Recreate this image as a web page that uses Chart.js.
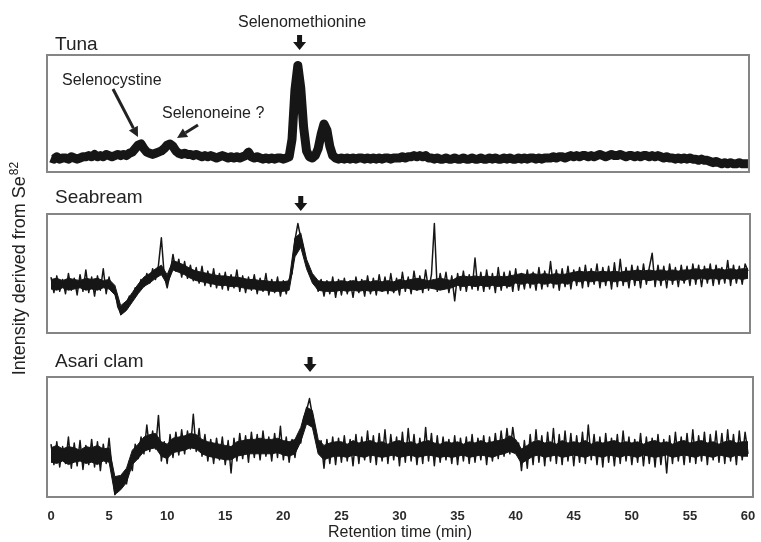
<!DOCTYPE html>
<html>
<head>
<meta charset="utf-8">
<script src="https://cdn.jsdelivr.net/npm/chart.js@4.4.1/dist/chart.umd.min.js"></script>
<style>
  html, body { margin: 0; padding: 0; background: #fff; }
  #wrap { position: relative; width: 761px; height: 542px; }
  #wrap canvas { position: absolute; left: 0; top: 0; }
</style>
</head>
<body>
<div id="wrap">
  <canvas id="tuna" width="761" height="542"></canvas>
  <canvas id="seabream" width="761" height="542"></canvas>
  <canvas id="asari" width="761" height="542"></canvas>
</div>
<script>
const sampleStep = 0.25;
// upper / lower edge of the dense noise band, every 0.5 min
const bandStep = 0.5;
const timeTicks = [0, 5, 10, 15, 20, 25, 30, 35, 40, 45, 50, 55, 60];

const tunaSignal = [
  12,11,13,11,12,12,11,13,12,11,12,13,
  13,14,13,15,13,14,13,15,14,13,14,15,
  14,15,14,16,17,20,23,24,20,17,16,15,
  16,17,18,20,23,24,22,18,16,15,16,15,
  15,14,15,14,13,14,13,14,13,12,13,14,
  13,12,13,12,13,12,13,14,17,13,12,13,
  12,11,12,11,12,11,12,12,11,12,13,28,
  70,91,72,38,18,13,12,14,20,32,41,36,
  22,14,12,11,12,11,12,11,12,11,12,12,
  11,12,11,12,11,12,11,12,12,11,12,12,
  12,13,12,13,13,14,13,14,13,14,12,12,
  11,12,11,11,12,11,11,12,11,11,12,11,
  11,12,11,11,12,11,11,12,11,12,11,11,
  12,11,12,11,11,12,11,12,11,12,12,11,
  12,11,12,12,12,13,12,13,13,12,13,14,
  13,14,13,14,14,13,14,13,14,15,14,13,
  14,15,14,14,15,14,13,14,14,13,14,13,
  14,14,13,14,13,14,13,12,13,12,12,11,
  12,11,12,11,12,11,11,10,11,10,10,9,
  8,9,8,7,8,7,8,7,7,8,7,7,
  7
];

const seabreamSignal = [
  47,34,48,35,45,33,50,36,46,32,49,35,
  53,34,47,31,48,36,54,33,47,35,36,22,
  17,21,24,31,29,38,35,45,39,50,42,54,
  45,57,80,48,38,50,66,52,62,47,60,46,
  57,44,55,42,56,40,52,39,54,38,50,37,
  51,36,49,38,53,35,48,34,47,36,49,33,
  46,35,50,32,45,34,47,31,44,33,45,50,
  78,92,80,70,58,52,44,43,35,45,31,44,
  33,47,30,45,32,46,33,44,30,47,34,45,
  31,48,33,46,32,49,35,47,33,50,34,46,
  32,51,35,47,33,52,36,48,34,53,36,49,
  92,35,50,37,51,34,48,27,50,36,52,35,
  49,37,63,36,51,35,53,37,50,34,55,36,
  51,38,52,35,54,36,50,37,53,38,51,36,
  55,37,52,39,60,38,53,36,54,39,56,37,
  53,40,55,38,57,39,54,41,58,38,55,40,
  56,37,59,39,62,40,55,38,57,40,56,38,
  58,41,55,67,39,57,40,56,38,58,41,55,
  39,57,42,56,40,58,41,57,39,56,42,58,
  40,57,41,55,42,61,40,57,42,56,41,58,
  52
];

const seabreamUpper = [
  45,46,44,46,45,44,46,45,46,44,
  45,40,23,27,34,41,47,50,54,57,
  49,61,59,57,54,52,51,50,49,48,
  48,47,47,46,45,45,44,44,43,43,
  43,44,80,84,62,50,44,43,43,43,
  44,43,44,43,44,43,44,43,44,43,
  45,44,45,46,45,44,45,46,45,44,
  47,48,47,48,47,48,47,48,47,48,
  49,50,49,50,49,50,49,50,49,50,
  51,52,51,52,51,52,51,52,51,52,
  52,53,52,53,52,53,52,53,52,53,
  53,54,53,54,53,54,53,54,53,54,
  54
];

const seabreamLower = [
  37,36,38,36,37,38,36,37,36,38,
  37,32,15,19,26,33,39,42,46,49,
  41,53,51,49,46,44,43,42,41,40,
  40,39,39,38,37,37,36,36,35,35,
  35,36,64,72,54,42,36,35,35,35,
  36,35,36,35,36,35,36,35,36,35,
  37,38,37,36,37,38,37,36,37,38,
  40,39,40,39,40,39,40,39,40,39,
  42,41,42,41,42,41,42,41,42,41,
  44,43,44,43,44,43,44,43,44,43,
  45,44,45,44,45,44,45,44,45,44,
  46,45,46,45,46,45,46,45,46,45,
  46
];

const asariSignal = [
  44,27,46,25,42,28,50,24,45,26,47,23,
  43,27,48,25,46,22,44,28,49,24,2,14,
  8,18,11,30,22,44,32,50,36,60,38,55,
  40,68,30,46,28,52,33,54,35,56,36,55,
  40,69,38,57,34,52,30,48,28,49,31,50,
  27,47,20,49,30,53,32,51,29,54,33,52,
  31,55,34,50,30,53,33,59,31,50,29,48,
  33,52,45,66,72,82,68,55,38,47,24,48,
  28,50,27,49,29,51,30,48,26,52,28,50,
  31,55,29,51,27,53,30,56,28,52,31,50,
  26,54,29,57,30,52,27,49,28,58,30,53,
  26,51,29,50,31,48,28,51,27,49,30,50,
  28,52,29,49,31,51,27,50,30,53,32,55,
  34,57,36,58,40,45,22,47,24,52,27,56,
  29,51,26,54,30,57,28,52,27,55,30,53,
  26,51,29,54,28,60,31,52,27,50,25,53,
  29,49,26,52,28,55,30,50,27,48,29,53,
  26,50,28,49,25,52,27,48,20,51,28,54,
  30,50,27,53,29,56,28,51,30,54,27,52,
  31,55,29,53,28,56,30,52,27,55,31,54,
  36
];

const asariUpper = [
  41,43,40,42,41,39,42,41,43,40,
  41,17,18,24,39,44,50,52,53,46,
  44,49,50,51,53,52,48,46,45,44,
  43,42,46,47,48,48,49,48,48,49,
  47,46,48,58,75,72,48,43,45,46,
  46,44,47,45,46,47,45,46,44,46,
  47,45,46,44,46,47,45,44,46,45,
  46,44,46,45,47,45,46,47,48,51,
  48,40,43,46,47,45,46,44,47,45,
  46,45,47,44,46,45,46,47,45,46,
  45,46,44,46,47,45,46,44,46,47,
  45,46,47,45,46,44,46,47,45,46,
  46
];

const asariLower = [
  29,28,30,27,29,30,28,29,27,30,
  29,2,6,12,27,32,38,40,41,34,
  32,37,38,39,41,40,36,34,33,32,
  31,31,34,35,36,36,36,36,36,37,
  35,34,36,46,61,58,36,31,33,34,
  34,33,35,34,33,35,34,33,34,35,
  33,34,35,33,34,35,34,33,34,33,
  34,35,33,34,35,34,33,35,36,38,
  36,28,31,34,35,33,34,35,33,34,
  35,34,33,35,34,33,35,34,33,35,
  34,33,35,34,33,34,35,33,34,35,
  34,33,35,34,33,35,34,33,35,34,
  34
];

const inkColor = '#161616';
const frameColor = '#858585';
const fontFamily = 'Arial, "Liberation Sans", Helvetica, sans-serif';

function blockArrow(ctx, cx, top) {
  ctx.beginPath();
  ctx.moveTo(cx - 2.5, top);
  ctx.lineTo(cx + 2.5, top);
  ctx.lineTo(cx + 2.5, top + 7);
  ctx.lineTo(cx + 6.5, top + 7);
  ctx.lineTo(cx, top + 15);
  ctx.lineTo(cx - 6.5, top + 7);
  ctx.lineTo(cx - 2.5, top + 7);
  ctx.closePath();
  ctx.fill();
}

function lineArrow(ctx, x1, y1, x2, y2) {
  const ang = Math.atan2(y2 - y1, x2 - x1);
  const headLen = 10, headW = 5;
  const bx = x2 - headLen * Math.cos(ang);
  const by = y2 - headLen * Math.sin(ang);
  ctx.lineWidth = 3;
  ctx.beginPath();
  ctx.moveTo(x1, y1);
  ctx.lineTo(bx, by);
  ctx.stroke();
  ctx.beginPath();
  ctx.moveTo(x2, y2);
  ctx.lineTo(bx + headW * Math.sin(ang), by - headW * Math.cos(ang));
  ctx.lineTo(bx - headW * Math.sin(ang), by + headW * Math.cos(ang));
  ctx.closePath();
  ctx.fill();
}

// grey box round each panel, sample name and the arrow over the SeMet peak
const framePlugin = {
  id: 'panelFrame',
  afterDatasetsDraw(chart, args, opts) {
    const { ctx, chartArea: a } = chart;
    ctx.save();
    ctx.strokeStyle = frameColor;
    ctx.lineWidth = 2;
    ctx.strokeRect(a.left, a.top, a.right - a.left, a.bottom - a.top);
    ctx.fillStyle = '#222';
    ctx.font = `19px ${fontFamily}`;
    ctx.textAlign = 'left';
    ctx.textBaseline = 'alphabetic';
    ctx.fillText(opts.title, 55, opts.titleBaseline);
    ctx.fillStyle = inkColor;
    blockArrow(ctx, chart.scales.x.getPixelForValue(opts.arrowAt), opts.arrowTop);
    ctx.restore();
  }
};

// labels that only the tuna panel has, plus the shared y title
const tunaNotes = {
  id: 'tunaNotes',
  afterDraw(chart) {
    const ctx = chart.ctx;
    ctx.save();
    ctx.fillStyle = '#222';
    ctx.strokeStyle = '#222';
    ctx.textBaseline = 'alphabetic';
    ctx.font = `16px ${fontFamily}`;
    ctx.textAlign = 'center';
    ctx.fillText('Selenomethionine', 302, 27);
    ctx.textAlign = 'left';
    ctx.fillText('Selenocystine', 62, 85);
    ctx.fillText('Selenoneine ?', 162, 118);
    lineArrow(ctx, 113, 89, 138, 137);
    lineArrow(ctx, 198, 125, 177, 138);

    const main = 'Intensity derived from Se';
    ctx.font = `18px ${fontFamily}`;
    const w1 = ctx.measureText(main).width;
    ctx.font = `12px ${fontFamily}`;
    const w2 = ctx.measureText('82').width;
    ctx.translate(25, 269);
    ctx.rotate(-Math.PI / 2);
    const start = -(w1 + w2) / 2;
    ctx.font = `18px ${fontFamily}`;
    ctx.fillText(main, start, 0);
    ctx.font = `12px ${fontFamily}`;
    ctx.fillText('82', start + w1 + 1, -7);
    ctx.restore();
  }
};

function makePanel(canvasId, signal, cfg) {
  const datasets = [];
  if (cfg.upper) {
    // solid noise band: fill from the upper edge down to the lower edge
    datasets.push({
      data: cfg.upper.map((v, i) => ({ x: i * bandStep, y: v })),
      borderColor: inkColor,
      backgroundColor: inkColor,
      borderWidth: 1,
      pointRadius: 0,
      tension: 0,
      fill: '+1'
    });
    datasets.push({
      data: cfg.lower.map((v, i) => ({ x: i * bandStep, y: v })),
      borderColor: inkColor,
      borderWidth: 1,
      pointRadius: 0,
      tension: 0,
      fill: false
    });
  }
  datasets.push({
    data: signal.map((v, i) => ({ x: i * sampleStep, y: v })),
    borderColor: inkColor,
    borderWidth: cfg.lineWidth,
    borderJoinStyle: 'round',
    pointRadius: 0,
    tension: 0,
    fill: false
  });

  const xScale = {
    type: 'linear',
    min: cfg.xMin,
    max: cfg.xMax,
    display: false
  };
  if (cfg.showAxis) {
    Object.assign(xScale, {
      display: true,
      grid: { display: true, drawOnChartArea: false, drawTicks: true, tickLength: 12, color: 'rgba(0,0,0,0)' },
      border: { display: false },
      afterBuildTicks: (scale) => {
        scale.ticks = timeTicks.map((v) => ({ value: v }));
      },
      ticks: {
        padding: 0,
        color: '#2b2b2b',
        autoSkip: false,
        maxRotation: 0,
        font: { family: fontFamily, size: 13, weight: 'bold' }
      },
      title: {
        display: true,
        text: 'Retention time (min)',
        color: '#222',
        padding: { top: 0, bottom: 0 },
        font: { family: fontFamily, size: 16, lineHeight: 1 }
      }
    });
  }
  return new Chart(document.getElementById(canvasId), {
    type: 'line',
    data: { datasets },
    options: {
      responsive: false,
      animation: false,
      devicePixelRatio: 1,
      layout: { padding: cfg.padding },
      plugins: {
        legend: { display: false },
        tooltip: { enabled: false },
        panelFrame: cfg.frame
      },
      scales: {
        x: xScale,
        y: { min: 0, max: 100, display: false }
      }
    },
    plugins: [framePlugin].concat(cfg.extra || [])
  });
}

makePanel('tuna', tunaSignal, {
  lineWidth: 9,
  xMin: -0.344, xMax: 60.09,
  padding: { left: 47, right: 12, top: 55, bottom: 370 },
  frame: { title: 'Tuna', titleBaseline: 50, arrowAt: 21.4, arrowTop: 35 },
  extra: [tunaNotes]
});

makePanel('seabream', seabreamSignal, {
  lineWidth: 1.5,
  upper: seabreamUpper, lower: seabreamLower,
  xMin: -0.344, xMax: 60.17,
  padding: { left: 47, right: 11, top: 214, bottom: 209 },
  frame: { title: 'Seabream', titleBaseline: 203, arrowAt: 21.5, arrowTop: 196 },
  extra: []
});

makePanel('asari', asariSignal, {
  lineWidth: 1.5,
  upper: asariUpper, lower: asariLower,
  xMin: -0.344, xMax: 60.43,
  showAxis: true,
  padding: { left: 47, right: 8, top: 377, bottom: 1.4 },
  frame: { title: 'Asari clam', titleBaseline: 367, arrowAt: 22.3, arrowTop: 357 },
  extra: []
});
</script>
</body>
</html>
